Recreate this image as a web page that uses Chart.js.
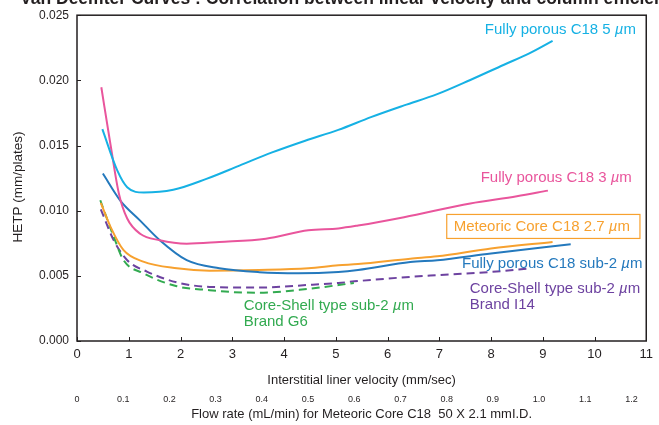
<!DOCTYPE html>
<html>
<head>
<meta charset="utf-8">
<script src="https://cdn.jsdelivr.net/npm/chart.js@4.4.1/dist/chart.umd.min.js"></script>
<style>
  html, body { margin: 0; padding: 0; background: #fff; }
  #wrap { width: 659px; height: 425px; }
</style>
</head>
<body>
<div id="wrap"><canvas id="myChart" width="659" height="425"></canvas></div>
<script>
// HETP (mm/plates), per column, against interstitial linear velocity (mm/sec)
const porous5Velocity = [0.49, 0.78, 0.97, 1.29, 1.86, 2.5, 3.14, 3.77, 4.41, 5.05, 5.68, 6.32, 6.96, 7.6, 8.24, 8.74, 9.19];
const porous5Hetp     = [0.01626, 0.01307, 0.0118, 0.01139, 0.0116, 0.01244, 0.01346, 0.01447, 0.01537, 0.0162, 0.01718, 0.01808, 0.01894, 0.02003, 0.02118, 0.02207, 0.02303];

const porous3Velocity = [0.47, 0.65, 0.81, 0.97, 1.22, 1.6, 2.12, 2.75, 3.65, 4.47, 5.05, 5.43, 6.32, 7.6, 8.5, 9.1];
const porous3Hetp     = [0.01947, 0.0150, 0.0113, 0.0094, 0.00823, 0.00773, 0.00747, 0.0076, 0.00785, 0.0085, 0.00864, 0.00886, 0.0095, 0.01055, 0.0111, 0.01154];

const meteoricVelocity = [0.46, 0.65, 0.9, 1.28, 1.93, 2.56, 3.52, 4.47, 5.05, 5.43, 6.44, 6.96, 8.0, 9.19];
const meteoricHetp     = [0.0106, 0.00874, 0.00697, 0.00609, 0.00558, 0.0054, 0.00545, 0.00558, 0.00581, 0.0059, 0.00632, 0.0065, 0.0071, 0.0076];

const porousSub2Velocity = [0.5, 0.84, 1.22, 1.6, 2.12, 2.75, 3.52, 4.28, 5.05, 5.43, 6.44, 6.96, 8.0, 9.54];
const porousSub2Hetp     = [0.01285, 0.01076, 0.00924, 0.00773, 0.0062, 0.00558, 0.00528, 0.0052, 0.0053, 0.00545, 0.00606, 0.0062, 0.00672, 0.00742];

const shellI14Velocity = [0.46, 0.71, 0.97, 1.35, 1.93, 2.56, 3.52, 4.47, 5.05, 5.43, 6.44, 6.96, 8.0, 8.74];
const shellI14Hetp     = [0.0101, 0.00773, 0.0062, 0.00533, 0.0045, 0.00415, 0.0041, 0.0043, 0.00445, 0.0046, 0.00492, 0.00505, 0.0053, 0.00556];

const shellG6Velocity = [0.45, 0.71, 0.9, 1.28, 1.93, 2.56, 2.94, 3.52, 4.47, 5.35];
const shellG6Hetp     = [0.0108, 0.008, 0.0062, 0.0052, 0.0042, 0.0039, 0.00377, 0.0037, 0.004, 0.00445];

// axis ticks
const velocityTicks = [0, 1, 2, 3, 4, 5, 6, 7, 8, 9, 10, 11];
const hetpTicks = [0, 0.005, 0.01, 0.015, 0.02, 0.025];
const flowRateLabels = ['0', '0.1', '0.2', '0.3', '0.4', '0.5', '0.6', '0.7', '0.8', '0.9', '1.0', '1.1', '1.2'];

const FONT = '"Liberation Sans", Arial, Helvetica, sans-serif';
const C = {
  porous5: '#16b1e4',
  porous3: '#e9559c',
  meteoric: '#f7a12f',
  porousSub2: '#2479bd',
  shellI14: '#6d42a0',
  shellG6: '#32aa50'
};

// curve labels, anchored in data units (velocity, HETP)
const curveLabels = [
  { lines: ['Fully porous C18 5 µm'], v: 7.88, h: 0.02385, color: C.porous5 },
  { lines: ['Fully porous C18 3 µm'], v: 7.8, h: 0.01254, color: C.porous3 },
  { lines: ['Meteoric Core C18 2.7 µm'], v: 7.28, h: 0.00879, color: C.meteoric, boxed: true },
  { lines: ['Fully porous C18 sub-2 µm'], v: 7.44, h: 0.00589, color: C.porousSub2 },
  { lines: ['Core-Shell type sub-2 µm', 'Brand I14'], v: 7.59, h: 0.00398, color: C.shellI14 },
  { lines: ['Core-Shell type sub-2 µm', 'Brand G6'], v: 3.22, h: 0.00268, color: C.shellG6 }
];

function toPoints(xs, ys) {
  return xs.map((v, i) => ({ x: v, y: ys[i] }));
}

function series(label, xs, ys, color, dashed) {
  return {
    label: label,
    data: toPoints(xs, ys),
    borderColor: color,
    borderWidth: 2,
    borderDash: dashed ? [8, 5] : [],
    pointRadius: 0,
    fill: false,
    cubicInterpolationMode: 'monotone'
  };
}

// draws text with the "µ" set in italic
function drawRich(ctx, text, x, y, size) {
  const parts = text.split('µ');
  parts.forEach((p, i) => {
    if (i > 0) {
      ctx.font = 'italic ' + size + 'px ' + FONT;
      ctx.fillText('µ', x, y);
      x += ctx.measureText('µ').width;
    }
    ctx.font = size + 'px ' + FONT;
    ctx.fillText(p, x, y);
    x += ctx.measureText(p).width;
  });
  return x;
}

const figureText = {
  id: 'figureText',
  afterDraw(chart) {
    const ctx = chart.ctx;
    const a = chart.chartArea;
    const xs = chart.scales.x;
    const ys = chart.scales.y;
    ctx.save();

    // frame and inward ticks
    ctx.strokeStyle = '#231f20';
    ctx.lineWidth = 1.5;
    ctx.strokeRect(a.left, a.top, a.right - a.left, a.bottom - a.top);
    ctx.lineWidth = 1;
    ctx.beginPath();
    velocityTicks.forEach(v => {
      const px = Math.round(xs.getPixelForValue(v)) + 0.5;
      ctx.moveTo(px, a.bottom);
      ctx.lineTo(px, a.bottom - 4);
    });
    hetpTicks.forEach(h => {
      const py = Math.round(ys.getPixelForValue(h)) + 0.5;
      ctx.moveTo(a.left, py);
      ctx.lineTo(a.left + 4, py);
    });
    ctx.stroke();

    // curve labels
    ctx.textBaseline = 'middle';
    ctx.textAlign = 'left';
    curveLabels.forEach(l => {
      const x0 = xs.getPixelForValue(l.v);
      const y0 = ys.getPixelForValue(l.h);
      ctx.fillStyle = l.color;
      let right = x0;
      l.lines.forEach((t, i) => {
        right = Math.max(right, drawRich(ctx, t, x0, y0 + i * 16, 15));
      });
      if (l.boxed) {
        ctx.strokeStyle = l.color;
        ctx.lineWidth = 1.2;
        ctx.strokeRect(x0 - 7, y0 - 12, right - x0 + 17, 24);
      }
    });

    // y axis title
    ctx.fillStyle = '#231f20';
    ctx.font = '13.5px ' + FONT;
    ctx.textAlign = 'center';
    ctx.translate(18, 187);
    ctx.rotate(-Math.PI / 2);
    ctx.fillText('HETP (mm/plates)', 0, 0);
    ctx.setTransform(1, 0, 0, 1, 0, 0);

    // figure title, cut off by the top edge
    ctx.font = 'bold 17.5px ' + FONT;
    ctx.textAlign = 'left';
    ctx.textBaseline = 'alphabetic';
    ctx.fillText('Van Deemter Curves : Correlation between linear velocity and column efficiency', 20, 4);
    ctx.restore();
  }
};

document.addEventListener('DOMContentLoaded', () => {
  const ctx = document.getElementById('myChart').getContext('2d');
  new Chart(ctx, {
    type: 'line',
    data: {
      datasets: [
        series('Fully porous C18 5 µm', porous5Velocity, porous5Hetp, C.porous5, false),
        series('Fully porous C18 3 µm', porous3Velocity, porous3Hetp, C.porous3, false),
        series('Fully porous C18 sub-2 µm', porousSub2Velocity, porousSub2Hetp, C.porousSub2, false),
        series('Meteoric Core C18 2.7 µm', meteoricVelocity, meteoricHetp, C.meteoric, false),
        series('Core-Shell type sub-2 µm Brand G6', shellG6Velocity, shellG6Hetp, C.shellG6, true),
        series('Core-Shell type sub-2 µm Brand I14', shellI14Velocity, shellI14Hetp, C.shellI14, true)
      ]
    },
    options: {
      responsive: false,
      animation: false,
      layout: { padding: { top: 14, right: 8, left: 0, bottom: 0 } },
      plugins: { legend: { display: false }, tooltip: { enabled: false } },
      scales: {
        x: {
          type: 'linear',
          position: 'bottom',
          min: 0,
          max: 11,
          weight: 0,
          afterFit: s => { s.height = 48; },
          afterBuildTicks: s => { s.ticks = velocityTicks.map(v => ({ value: v })); },
          grid: { display: false, drawTicks: false },
          border: { display: false },
          ticks: { padding: 6, color: '#231f20', font: { family: FONT, size: 13 }, maxRotation: 0 },
          title: {
            display: true,
            text: 'Interstitial liner velocity (mm/sec)',
            color: '#231f20',
            font: { family: FONT, size: 13 },
            padding: { top: 0, bottom: 1 }
          }
        },
        x2: {
          type: 'linear',
          position: 'bottom',
          min: 0,
          max: 1.232,
          weight: 1,
          afterFit: s => { s.height = 36; },
          afterBuildTicks: s => { s.ticks = flowRateLabels.map(t => ({ value: parseFloat(t) })); },
          grid: { display: false, drawTicks: false },
          border: { display: false },
          ticks: {
            padding: 5,
            color: '#231f20',
            maxRotation: 0,
            autoSkip: false,
            font: { family: '"Liberation Sans Narrow", ' + FONT, size: 9 },
            callback: (v, i) => flowRateLabels[i]
          },
          title: {
            display: true,
            text: 'Flow rate (mL/min) for Meteoric Core C18  50 X 2.1 mmI.D.',
            color: '#231f20',
            font: { family: FONT, size: 13 },
            padding: { top: 0, bottom: 3 }
          }
        },
        y: {
          type: 'linear',
          min: 0,
          max: 0.025,
          afterFit: s => { s.width = 77; },
          afterBuildTicks: s => { s.ticks = hetpTicks.map(h => ({ value: h })); },
          grid: { display: false, drawTicks: false },
          border: { display: false },
          ticks: {
            padding: 8,
            color: '#231f20',
            font: { family: FONT, size: 12 },
            callback: v => v.toFixed(3)
          }
        }
      }
    },
    plugins: [figureText]
  });
});
</script>
</body>
</html>
